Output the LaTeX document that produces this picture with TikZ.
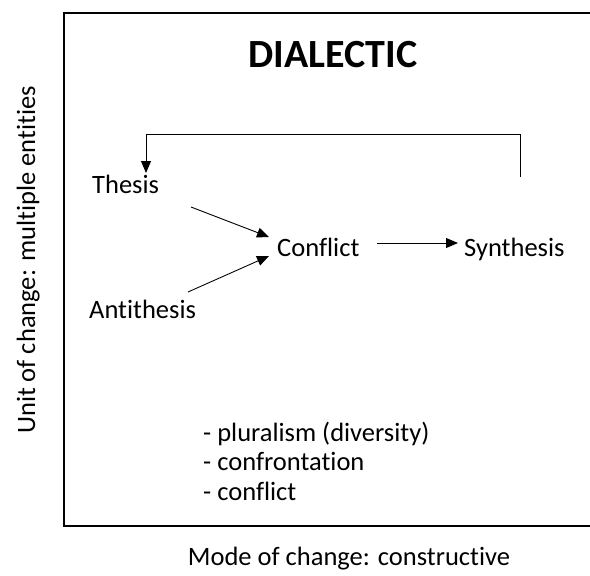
\documentclass[tikz,border=0pt]{standalone}
\usepackage{fontspec}
\setmainfont{Carlito}[Ligatures=NoCommon]
\usetikzlibrary{arrows.meta}
\begin{document}
\begin{tikzpicture}[x=1pt,y=-1pt,
  lbl/.style={inner sep=0pt,font=\fontsize{26.5}{30}\selectfont},
  arr/.style={-{Triangle[length=12pt,width=10pt]},line width=0.9pt},
  frame/.style={line width=1.3pt}]
\useasboundingbox (0,0) rectangle (590,576);
\draw[frame] (592,13) -- (64,13) -- (64,526) -- (592,526);
\node[inner sep=0pt,anchor=base,font=\bfseries\fontsize{40}{44}\selectfont] (title) at (333,67) {DIALECTIC};
\node[lbl,anchor=base west] (thesis) at (92,193) {Thesis};
\node[lbl,anchor=base west] (antithesis) at (89,318) {Antithesis};
\node[lbl,anchor=base west] (conflict) at (277,256) {Conflict};
\node[lbl,anchor=base west] (synthesis) at (464,256) {Synthesis};
\coordinate (c1) at (191,207);
\coordinate (c2) at (188,292);
\coordinate (t1) at (269,237);
\coordinate (t2) at (269,256);
\coordinate (c3) at (377,243);
\coordinate (t3) at (458,243);
\coordinate (fb) at (520,177);
\coordinate (tt) at (146,173);
\draw[arr] (c1) -- (t1);
\draw[arr] (c2) -- (t2);
\draw[arr] (c3) -- (t3);
\draw[arr] (fb) -- (fb |- 0,134) -- (tt |- 0,134) -- (tt);
\node[lbl,anchor=base west,align=left,font=\fontsize{26.5}{29.5}\selectfont] (list) at (203,500) {- pluralism (diversity)\\- confrontation\\- conflict};
\node[lbl,anchor=base] (xlab) at (349,565) {Mode of change: constructive};
\node[lbl,rotate=90,anchor=base] (ylab) at (35,260) {Unit of change: multiple entities};
\end{tikzpicture}
\end{document}
